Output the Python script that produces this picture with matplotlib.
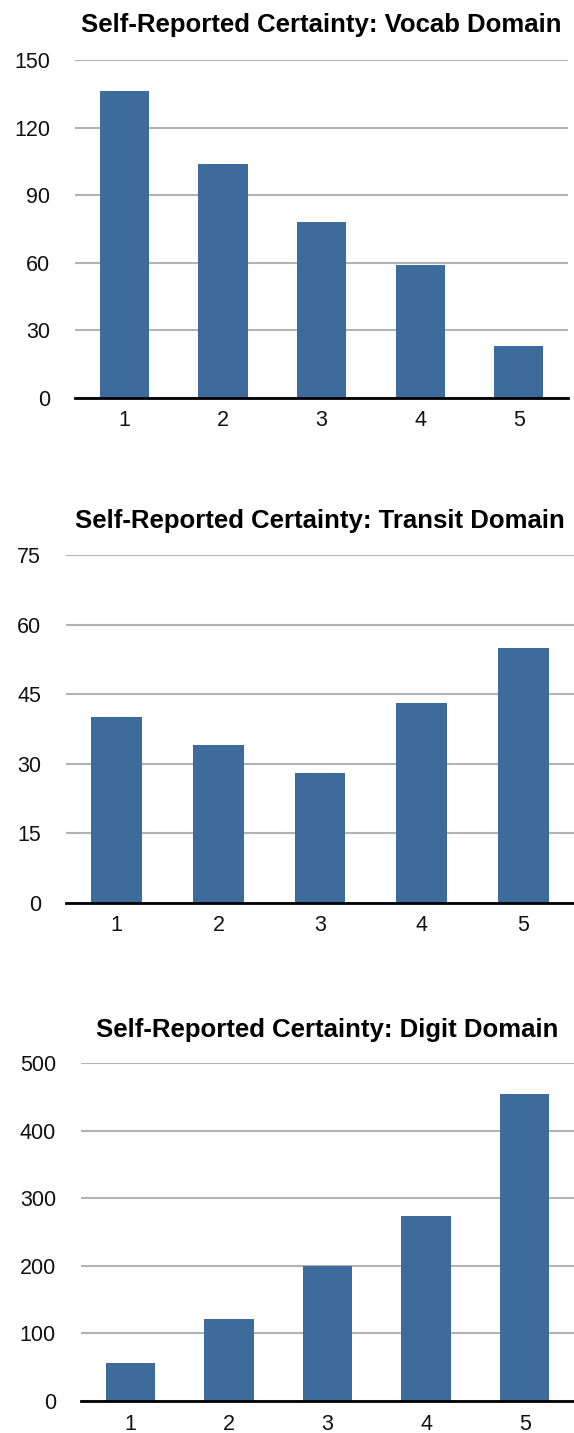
import matplotlib
matplotlib.use('Agg')
import matplotlib.pyplot as plt
import numpy as np

plt.rcParams['font.family'] = ['Liberation Sans', 'DejaVu Sans']

# data
levels = ['1', '2', '3', '4', '5']
vocab = [136, 104, 78, 59, 23]
transit = [40, 34, 28, 43, 55]
digit = [56, 121, 200, 273, 454]

titles = ['Self-Reported Certainty: Vocab Domain',
          'Self-Reported Certainty: Transit Domain',
          'Self-Reported Certainty: Digit Domain']
yticks = [[0, 30, 60, 90, 120, 150],
          [0, 15, 30, 45, 60, 75],
          [0, 100, 200, 300, 400, 500]]
series = [vocab, transit, digit]

# axes boxes in figure fractions [left, bottom, width, height]
boxes = [[0.1307, 0.7223, 0.859, 0.2359],
         [0.1150, 0.3699, 0.885, 0.2428],
         [0.1411, 0.0223, 0.8589, 0.2359]]
title_pads = [20, 19.5, 19]

bar_color = '#3d6b9c'

fig = plt.figure(figsize=(5.74, 14.33), dpi=100)

for vals, title, ticks, box, tp in zip(series, titles, yticks, boxes, title_pads):
    ax = fig.add_axes(box)
    x = np.arange(len(levels))
    ax.bar(x, vals, width=0.5, color=bar_color, zorder=3)
    ax.set_xlim(-0.5, len(levels) - 0.5)
    ax.set_ylim(0, ticks[-1])
    ax.set_yticks(ticks)
    ax.set_xticks(x)
    ax.set_xticklabels(levels)
    ax.yaxis.grid(True, color='#b3b3b3', linewidth=1.5, zorder=1)
    ax.set_axisbelow(True)
    for s in ['top', 'right', 'left']:
        ax.spines[s].set_visible(False)
    ax.spines['bottom'].set_linewidth(2)
    ax.spines['bottom'].set_color('black')
    ax.spines['bottom'].set_zorder(4)
    ax.tick_params(axis='both', length=0, labelsize=15.5, colors='#111111')
    ax.tick_params(axis='y', pad=18)
    ax.tick_params(axis='x', pad=9)
    ax.set_title(title, fontsize=18.5, fontweight='bold', pad=tp)

fig.savefig('out.png', dpi=100)
